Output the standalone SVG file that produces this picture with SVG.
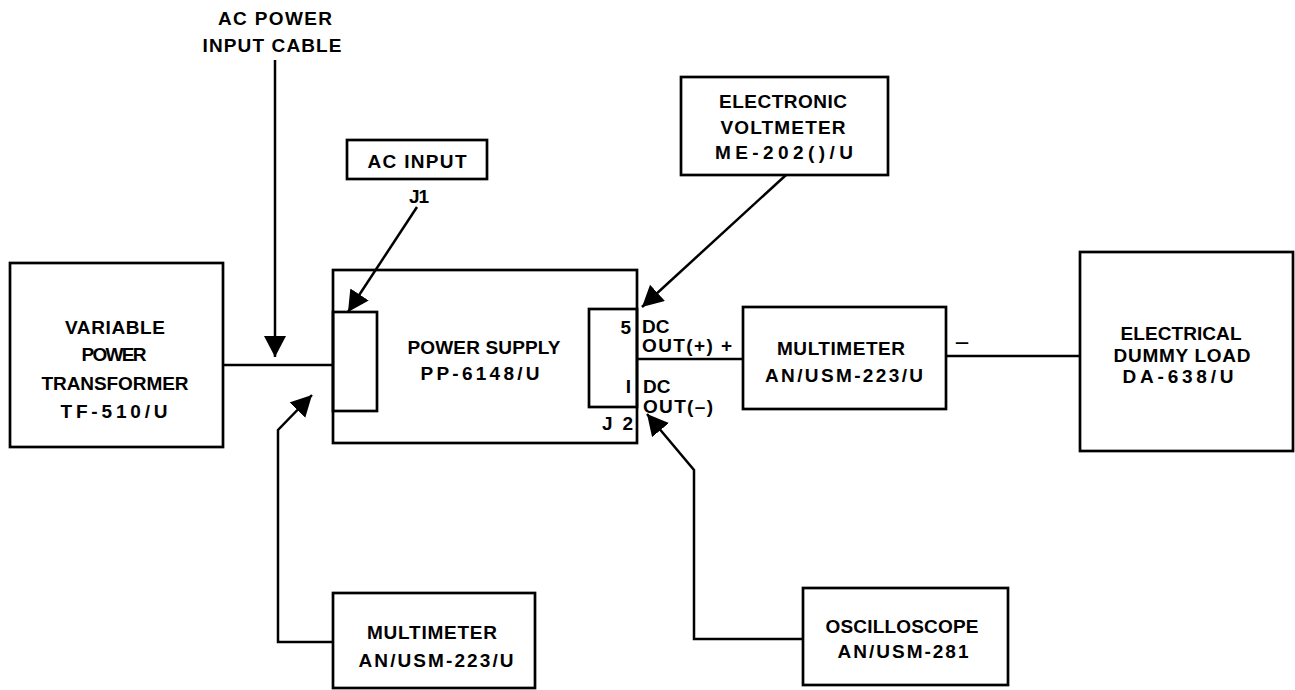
<svg xmlns="http://www.w3.org/2000/svg" width="1295" height="690" viewBox="0 0 1295 690">
<defs>
<style>
.b{fill:none;stroke:#000;stroke-width:2.7}
.c{fill:none;stroke:#000;stroke-width:2.5;stroke-linejoin:miter}
text{font-family:"Liberation Sans",Arial,sans-serif;font-weight:bold;font-size:19px;fill:#000}
.m{text-anchor:middle}
.e{text-anchor:end}
</style>
<marker id="ah" markerUnits="userSpaceOnUse" markerWidth="24" markerHeight="24" refX="21" refY="11" orient="auto">
<path d="M0,0 L21,11 L0,22 z" fill="#000"/>
</marker>
</defs>
<rect width="1295" height="690" fill="#fff"/>

<g id="ac-power-label">
<text class="m" x="275" y="25" textLength="114" lengthAdjust="spacing">AC POWER</text>
<text class="m" x="272" y="52" textLength="139" lengthAdjust="spacing">INPUT CABLE</text>
</g>

<g id="ac-input">
<rect class="b" x="347" y="140" width="140" height="39"/>
<text class="m" x="417" y="168" textLength="99" lengthAdjust="spacing">AC INPUT</text>
<text class="m" x="419" y="203" textLength="20" lengthAdjust="spacing">J1</text>
</g>

<g id="voltmeter">
<rect class="b" x="681" y="77" width="207" height="98"/>
<text class="m" x="783" y="108" textLength="128" lengthAdjust="spacing">ELECTRONIC</text>
<text class="m" x="783" y="134" textLength="125" lengthAdjust="spacing">VOLTMETER</text>
<text class="m" x="784" y="159" textLength="138" lengthAdjust="spacing">ME-202()/U</text>
</g>

<g id="transformer">
<rect class="b" x="10" y="263" width="213" height="184"/>
<text class="m" x="115" y="334" textLength="100" lengthAdjust="spacing">VARIABLE</text>
<text class="m" x="114" y="361" textLength="65" lengthAdjust="spacing">POWER</text>
<text class="m" x="115" y="390" textLength="147" lengthAdjust="spacing">TRANSFORMER</text>
<text class="m" x="114" y="418" textLength="107" lengthAdjust="spacing">TF-510/U</text>
</g>

<g id="power-supply">
<rect class="b" x="333" y="270" width="304" height="173"/>
<rect class="b" x="333" y="312" width="44" height="99"/>
<rect class="b" x="589" y="309" width="48" height="98"/>
<text class="m" x="484" y="354" textLength="153" lengthAdjust="spacing">POWER SUPPLY</text>
<text class="m" x="480" y="380" textLength="119" lengthAdjust="spacing">PP-6148/U</text>
<text class="e" x="631" y="334">5</text>
<text class="e" x="631" y="393">I</text>
<text class="e" x="633" y="430" textLength="31" lengthAdjust="spacing">J 2</text>
<text x="642" y="333">DC</text>
<text x="642" y="352" textLength="90" lengthAdjust="spacing">OUT(+) +</text>
<text x="643" y="393">DC</text>
<text x="643" y="413" textLength="70" lengthAdjust="spacing">OUT(–)</text>
</g>

<g id="multimeter-1">
<rect class="b" x="743" y="307" width="203" height="102"/>
<text class="m" x="841" y="355" textLength="128" lengthAdjust="spacing">MULTIMETER</text>
<text class="m" x="844" y="382" textLength="158" lengthAdjust="spacing">AN/USM-223/U</text>
<text x="955" y="348" textLength="14" lengthAdjust="spacingAndGlyphs">–</text>
</g>

<g id="dummy-load">
<rect class="b" x="1080" y="252" width="213" height="199"/>
<text class="m" x="1181" y="340" textLength="121" lengthAdjust="spacing">ELECTRICAL</text>
<text class="m" x="1182" y="362" textLength="137" lengthAdjust="spacing">DUMMY LOAD</text>
<text class="m" x="1178" y="383" textLength="111" lengthAdjust="spacing">DA-638/U</text>
</g>

<g id="multimeter-2">
<rect class="b" x="333" y="593" width="202" height="95"/>
<text class="m" x="432" y="639" textLength="130" lengthAdjust="spacing">MULTIMETER</text>
<text class="m" x="436" y="667" textLength="155" lengthAdjust="spacing">AN/USM-223/U</text>
</g>

<g id="oscilloscope">
<rect class="b" x="803" y="588" width="205" height="97"/>
<text class="m" x="902" y="633" textLength="153" lengthAdjust="spacing">OSCILLOSCOPE</text>
<text class="m" x="903" y="658" textLength="131" lengthAdjust="spacing">AN/USM-281</text>
</g>

<g id="connectors">
<line class="c" x1="223" y1="365" x2="333" y2="365"/>
<line class="c" x1="637" y1="359" x2="743" y2="359"/>
<line class="c" x1="946" y1="356" x2="1080" y2="356"/>
<line class="c" x1="275" y1="60" x2="275" y2="357" marker-end="url(#ah)"/>
<line class="c" x1="417" y1="207" x2="348" y2="312" marker-end="url(#ah)"/>
<line class="c" x1="786" y1="175" x2="642" y2="307" marker-end="url(#ah)"/>
<path class="c" d="M333,642 H278 V430 L312,395" marker-end="url(#ah)"/>
<path class="c" d="M803,639 H694 V470 L647,414" marker-end="url(#ah)"/>
</g>
</svg>
